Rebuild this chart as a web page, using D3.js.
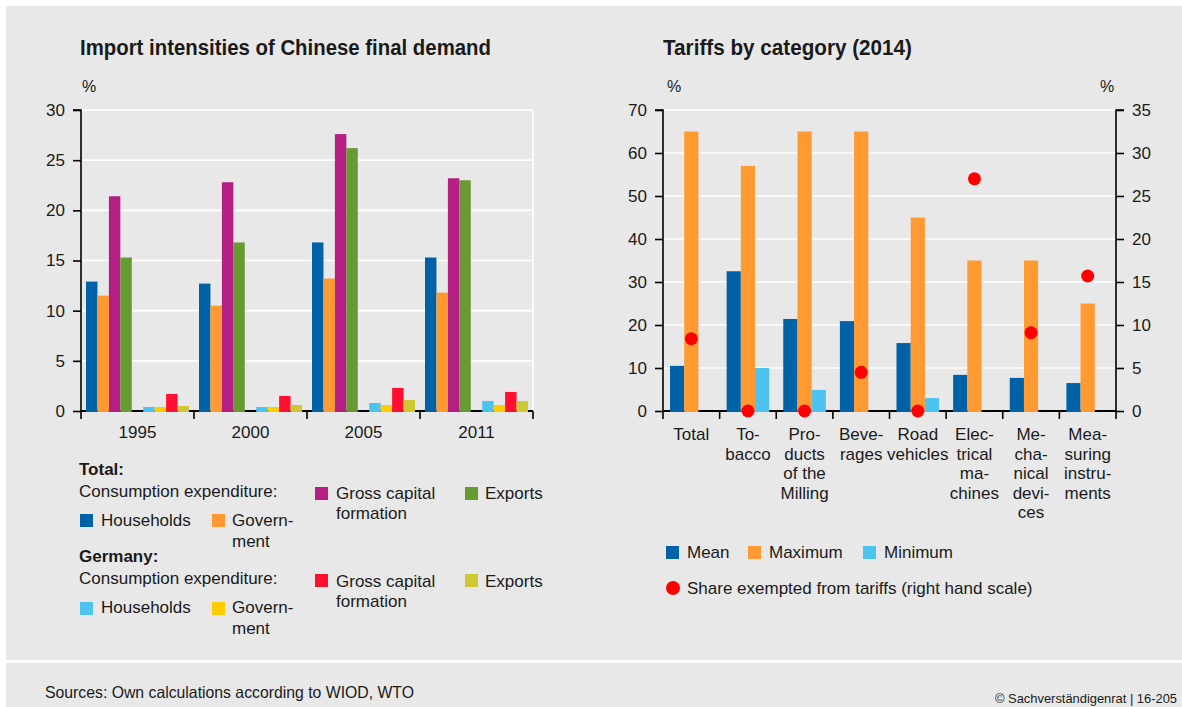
<!DOCTYPE html>
<html>
<head>
<meta charset="utf-8">
<script src="https://cdn.jsdelivr.net/npm/d3@7"></script>
<style>
  html, body { margin: 0; padding: 0; background: #ffffff; }
  svg { display: block; }
  text { font-family: "Liberation Sans", Arial, sans-serif; fill: #1a1a1a; }
</style>
</head>
<body>
<svg id="chart" width="1182" height="707"></svg>
<script>
// ---- Import intensities of Chinese final demand (%) ----
const years = ["1995", "2000", "2005", "2011"];
const totalHouseholds   = [12.9, 12.7, 16.8, 15.3];
const totalGovernment   = [11.5, 10.5, 13.2, 11.8];
const totalGrossCapital = [21.4, 22.8, 27.6, 23.2];
const totalExports      = [15.3, 16.8, 26.2, 23.0];
const deHouseholds      = [0.4, 0.4, 0.8, 1.0];
const deGovernment      = [0.4, 0.4, 0.6, 0.6];
const deGrossCapital    = [1.7, 1.5, 2.3, 1.9];
const deExports         = [0.5, 0.6, 1.1, 1.0];
const leftTicks = [0, 5, 10, 15, 20, 25, 30];

// ---- Tariffs by category (2014), % ----
const tariffCategories = ["Total", "Tobacco", "Products of the Milling", "Beverages",
  "Road vehicles", "Electrical machines", "Mechanical devices", "Measuring instruments"];
const tariffLabelLines = [
  ["Total"], ["To-", "bacco"], ["Pro-", "ducts", "of the", "Milling"], ["Beve-", "rages"],
  ["Road", "vehicles"], ["Elec-", "trical", "ma-", "chines"], ["Me-", "cha-", "nical", "devi-", "ces"],
  ["Mea-", "suring", "instru-", "ments"]
];
const tariffMean = [10.5, 32.5, 21.4, 20.9, 15.8, 8.4, 7.7, 6.5];
const tariffMax  = [65, 57, 65, 65, 45, 35, 35, 25];
const tariffMin  = [null, 10, 4.9, null, 3.0, null, null, null];
const exemptShare = [8.4, 0, 0, 4.5, 0, 27.0, 9.1, 15.7];   // right hand scale
const tariffTicks = [0, 10, 20, 30, 40, 50, 60, 70];
const shareTicks  = [0, 5, 10, 15, 20, 25, 30, 35];

const C = {
  blue: "#0062a6", orange: "#ff9a33", purple: "#b51f83", green: "#679a33",
  lightBlue: "#4dc3f0", yellow: "#ffcc00", red: "#ff1031", olive: "#cdc834",
  dot: "#ff0000", panel: "#e8e8e8"
};

const svg = d3.select("#chart");

// condensed heading/footer text: squeeze regular glyphs to the given width
function condensed(sel, width) {
  return sel.attr("textLength", width).attr("lengthAdjust", "spacingAndGlyphs");
}

// panels
svg.append("rect").attr("x", 6).attr("y", 6).attr("width", 1176).attr("height", 654).attr("fill", C.panel);
svg.append("rect").attr("x", 6).attr("y", 663).attr("width", 1176).attr("height", 44).attr("fill", C.panel);

// ============ Left chart ============
const L = { x0: 81, x1: 533, y0: 411, y1: 110 };
const yL = d3.scaleLinear().domain([0, 30]).range([L.y0, L.y1]);
const xL = d3.scaleBand().domain(years).range([L.x0, L.x1]).padding(0);
// nine slots per year: four totals, an empty slot, four Germany series
const slotsL = d3.scaleBand().domain(d3.range(9)).range([5, xL.bandwidth() - 5]).padding(0);

const gL = svg.append("g");
condensed(svg.append("text").attr("x", 80).attr("y", 55)
  .style("font-size", "22px").style("font-weight", "bold")
  .text("Import intensities of Chinese final demand"), 411);
svg.append("text").attr("x", 82).attr("y", 92).style("font-size", "16px").text("%");

// grid
gL.selectAll("line.grid").data(leftTicks.filter(d => d > 0)).join("line")
  .attr("x1", L.x0).attr("x2", L.x1).attr("y1", d => yL(d)).attr("y2", d => yL(d))
  .attr("stroke", "#fff").attr("stroke-width", 1.6);
gL.append("line").attr("x1", L.x1).attr("x2", L.x1).attr("y1", L.y1).attr("y2", L.y0)
  .attr("stroke", "#fff").attr("stroke-width", 1.6);

const leftSeries = [
  { vals: totalHouseholds, color: C.blue, slot: 0 },
  { vals: totalGovernment, color: C.orange, slot: 1 },
  { vals: totalGrossCapital, color: C.purple, slot: 2 },
  { vals: totalExports, color: C.green, slot: 3 },
  { vals: deHouseholds, color: C.lightBlue, slot: 5 },
  { vals: deGovernment, color: C.yellow, slot: 6 },
  { vals: deGrossCapital, color: C.red, slot: 7 },
  { vals: deExports, color: C.olive, slot: 8 }
];

const yAxisL = d3.axisLeft(yL).tickValues(leftTicks).tickSize(8).tickPadding(8).tickFormat(d3.format("d"));
const axL = gL.append("g").attr("transform", `translate(${L.x0},0)`).call(yAxisL);
axL.select(".domain").attr("stroke", "#000").attr("stroke-width", 1.6).attr("d", `M-8,${L.y1}H0V${L.y0}`);
axL.selectAll(".tick line").attr("stroke", "#000").attr("stroke-width", 1.6);
axL.selectAll(".tick text").style("font-size", "17px").style("fill", "#1a1a1a").attr("font-family", null);

const boundsL = years.map(d => xL(d)).concat([L.x1]);
gL.append("line").attr("x1", L.x0).attr("x2", L.x1).attr("y1", L.y0).attr("y2", L.y0)
  .attr("stroke", "#000").attr("stroke-width", 1.8);

leftSeries.forEach(s => {
  gL.selectAll(null).data(years).join("rect")
    .attr("x", d => xL(d) + slotsL(s.slot))
    .attr("width", slotsL.bandwidth())
    .attr("y", (d, i) => yL(s.vals[i]))
    .attr("height", (d, i) => yL(0) - yL(s.vals[i]) + 1)
    .attr("fill", s.color);
});

gL.selectAll("line.bt").data(boundsL).join("line")
  .attr("x1", d => d).attr("x2", d => d).attr("y1", L.y0).attr("y2", L.y0 + 8)
  .attr("stroke", "#000").attr("stroke-width", 1.6);
gL.selectAll("text.year").data(years).join("text")
  .attr("x", d => xL(d) + xL.bandwidth() / 2).attr("y", 438)
  .attr("text-anchor", "middle").style("font-size", "17px").text(d => d);

// legend (left)
const lg = svg.append("g").style("font-size", "17px");
const legText = (x, y, t, bold) => lg.append("text").attr("x", x).attr("y", y)
  .style("font-weight", bold ? "bold" : null).text(t);
const legSq = (x, y, c) => lg.append("rect").attr("x", x).attr("y", y).attr("width", 13).attr("height", 13).attr("fill", c);

legText(79, 475, "Total:", true);
legText(79, 497, "Consumption expenditure:");
legSq(315, 487, C.purple); legText(336, 499, "Gross capital"); legText(336, 519, "formation");
legSq(465, 487, C.green); legText(485, 499, "Exports");
legSq(80, 514, C.blue); legText(101, 526, "Households");
legSq(212, 514, C.orange); legText(232, 526, "Govern-"); legText(232, 547, "ment");

legText(79, 562, "Germany:", true);
legText(79, 584, "Consumption expenditure:");
legSq(315, 574, C.red); legText(336, 587, "Gross capital"); legText(336, 607, "formation");
legSq(465, 574, C.olive); legText(485, 587, "Exports");
legSq(80, 602, C.lightBlue); legText(101, 613, "Households");
legSq(212, 602, C.yellow); legText(232, 613, "Govern-"); legText(232, 634, "ment");

// ============ Right chart ============
const R = { x0: 663, x1: 1116, y0: 411, y1: 110 };
const yR = d3.scaleLinear().domain([0, 70]).range([R.y0, R.y1]);
const yS = d3.scaleLinear().domain([0, 35]).range([R.y0, R.y1]);
const xR = d3.scaleBand().domain(tariffCategories).range([R.x0, R.x1]).padding(0);
const slotsR = d3.scaleBand().domain(["mean", "max", "min"]).range([7, xR.bandwidth() - 7]).padding(0);

const gR = svg.append("g");
condensed(svg.append("text").attr("x", 663).attr("y", 55)
  .style("font-size", "22px").style("font-weight", "bold")
  .text("Tariffs by category (2014)"), 249);
svg.append("text").attr("x", 667).attr("y", 92).style("font-size", "16px").text("%");
svg.append("text").attr("x", 1100).attr("y", 92).style("font-size", "16px").text("%");

gR.selectAll("line.grid").data(tariffTicks.filter(d => d > 0)).join("line")
  .attr("x1", R.x0).attr("x2", R.x1).attr("y1", d => yR(d)).attr("y2", d => yR(d))
  .attr("stroke", "#fff").attr("stroke-width", 1.6);

const axRL = gR.append("g").attr("transform", `translate(${R.x0},0)`)
  .call(d3.axisLeft(yR).tickValues(tariffTicks).tickSize(8).tickPadding(8).tickFormat(d3.format("d")));
const axRR = gR.append("g").attr("transform", `translate(${R.x1},0)`)
  .call(d3.axisRight(yS).tickValues(shareTicks).tickSize(8).tickPadding(8).tickFormat(d3.format("d")));
[axRL, axRR].forEach(ax => {
  ax.select(".domain").attr("stroke", "#000").attr("stroke-width", 1.6);
  ax.selectAll(".tick line").attr("stroke", "#000").attr("stroke-width", 1.6);
  ax.selectAll(".tick text").style("font-size", "17px").style("fill", "#1a1a1a").attr("font-family", null);
});
axRL.select(".domain").attr("d", `M-8,${R.y1}H0V${R.y0}`);
axRR.select(".domain").attr("d", `M8,${R.y1}H0V${R.y0}`);

gR.append("line").attr("x1", R.x0).attr("x2", R.x1).attr("y1", R.y0).attr("y2", R.y0)
  .attr("stroke", "#000").attr("stroke-width", 1.8);

const rightSeries = [
  { key: "mean", vals: tariffMean, color: C.blue },
  { key: "max", vals: tariffMax, color: C.orange },
  { key: "min", vals: tariffMin, color: C.lightBlue }
];
rightSeries.forEach(s => {
  const rows = tariffCategories.map((c, i) => ({ c, v: s.vals[i] })).filter(d => d.v != null);
  gR.selectAll(null).data(rows).join("rect")
    .attr("x", d => xR(d.c) + slotsR(s.key))
    .attr("width", slotsR.bandwidth())
    .attr("y", d => yR(d.v))
    .attr("height", d => yR(0) - yR(d.v) + 1)
    .attr("fill", s.color);
});

gR.selectAll("circle.share").data(tariffCategories).join("circle")
  .attr("cx", d => xR(d) + xR.bandwidth() / 2)
  .attr("cy", (d, i) => yS(exemptShare[i]))
  .attr("r", 6.5).attr("fill", C.dot);

const boundsR = tariffCategories.map(d => xR(d)).concat([R.x1]);
gR.selectAll("line.bt").data(boundsR).join("line")
  .attr("x1", d => d).attr("x2", d => d).attr("y1", R.y0).attr("y2", R.y0 + 8)
  .attr("stroke", "#000").attr("stroke-width", 1.6);

tariffCategories.forEach((c, i) => {
  const t = gR.append("text").attr("text-anchor", "middle").style("font-size", "17px");
  tariffLabelLines[i].forEach((line, k) => {
    t.append("tspan").attr("x", xR(c) + xR.bandwidth() / 2).attr("y", 440 + k * 19.6).text(line);
  });
});

// legend (right)
const rg = svg.append("g").style("font-size", "17px");
[[666, C.blue, "Mean"], [748, C.orange, "Maximum"], [863, C.lightBlue, "Minimum"]].forEach(([x, c, t]) => {
  rg.append("rect").attr("x", x).attr("y", 546).attr("width", 13).attr("height", 13).attr("fill", c);
  rg.append("text").attr("x", x + 21).attr("y", 558).text(t);
});
rg.append("circle").attr("cx", 673).attr("cy", 588).attr("r", 7).attr("fill", C.dot);
rg.append("text").attr("x", 687).attr("y", 594).text("Share exempted from tariffs (right hand scale)");

// footer
condensed(svg.append("text").attr("x", 45).attr("y", 698).style("font-size", "16.5px")
  .text("Sources: Own calculations according to WIOD, WTO"), 369);
condensed(svg.append("text").attr("x", 995).attr("y", 703).style("font-size", "13px")
  .text("© Sachverständigenrat | 16-205"), 182);
</script>
</body>
</html>
